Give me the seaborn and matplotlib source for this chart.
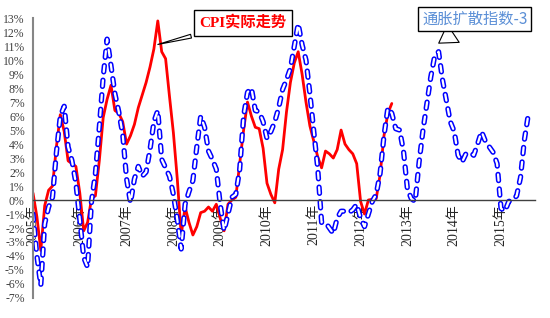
import numpy as np
import matplotlib
matplotlib.use("Agg")
import matplotlib.pyplot as plt
import seaborn as sns

# CPI actual trend (monthly, from 2005-01), percent
cpi_actual = [
    0.5, -1.2, -3.6, -0.4, 0.7, 1.0, 3.8, 6.1, 4.9, 2.8,
    2.6, 2.4, 0.5, -2.2, -1.6, 0.1, 0.3, 2.8, 5.9, 7.2,
    8.2, 6.4, 6.2, 5.6, 4.0, 4.6, 5.4, 6.6, 7.5, 8.4,
    9.5, 10.8, 12.8, 10.6, 10.1, 7.4, 4.8, 1.5, -2.5, -0.5,
    -1.6, -2.5, -1.9, -0.9, -0.8, -0.5, -0.8, -0.3, -1.3, -2.2,
    -0.3, 0.0, 0.2, 2.6, 5.0, 7.0, 6.0, 5.2, 5.1, 3.7,
    1.2, 0.4, -0.2, 2.2, 3.6, 6.3, 8.4, 9.8, 10.6, 9.0,
    7.0, 5.3, 4.2, 3.1, 2.3, 3.5, 3.3, 3.0, 3.6, 5.0,
    4.0, 3.6, 3.3, 2.6, -0.1, -1.0, 0.0, 0.05, 0.1, 1.8,
    4.6, 6.2, 6.9,
]

# inflation diffusion index (-3 months shift), percent
diffusion = [
    -1.0, -4.0, -6.1, -1.7, -0.5, 0.2, 3.4, 6.0, 6.7, 3.8,
    2.8, 1.2, -1.4, -4.1, -4.8, -0.1, 1.9, 5.2, 8.8, 11.5,
    9.6, 7.6, 6.3, 4.7, 1.5, -0.2, 1.5, 2.4, 1.7, 2.0,
    3.6, 5.6, 6.4, 2.9, 2.3, 1.7, 0.4, -1.4, -3.5, -0.3,
    0.6, 1.4, 3.8, 6.0, 5.2, 3.5, 2.9, 2.2, -0.3, -2.2,
    -1.0, 0.2, 0.4, 2.2, 6.0, 7.7, 8.0, 6.4, 6.3, 5.6,
    4.4, 4.9, 5.6, 6.6, 7.9, 8.6, 9.4, 11.0, 12.6, 11.1,
    10.0, 7.6, 4.9, 2.3, -1.6, -1.6, -2.0, -2.4, -1.3, -0.8,
    -0.8, -0.9, -0.7, -0.3, -1.3, -1.9, -1.0, -0.1, 0.4, 1.9,
    4.6, 6.6, 6.2, 5.1, 5.0, 3.5, 0.8, 0.1, -0.1, 2.7,
    5.0, 6.9, 8.8, 10.3, 10.6, 8.6, 7.1, 5.6, 4.9, 3.2,
    2.7, 3.3, 3.4, 3.2, 4.0, 4.9, 4.2, 3.8, 3.4, 2.6,
    -0.6, -0.8, -0.1, 0.0, 0.3, 1.6, 4.3, 6.1,
]

years = list(range(2005, 2016))
year_labels = [f"{y}年" for y in years]
y_ticks = list(range(-7, 14))

start_year = 2005
x_cpi = start_year + np.arange(len(cpi_actual)) / 12
x_diff = start_year + np.arange(len(diffusion)) / 12

sns.set_style("white")
plt.rcParams["font.family"] = ["Liberation Serif", "Noto Sans CJK SC"]
plt.rcParams["lines.scale_dashes"] = False

fig = plt.figure(figsize=(5.5, 3.18), dpi=100)
ax = fig.add_axes([0.06, 0.063, 0.913, 0.88])

sns.lineplot(x=x_cpi, y=cpi_actual, ax=ax, color="#ff0000", linewidth=2.0)

# hollow dashed line: blue outer dash with a white core on top
sns.lineplot(x=x_diff, y=diffusion, ax=ax, color="#0000ff", linewidth=3.8)
outer = ax.lines[-1]
outer.set_dashes((4.5, 6.0))
outer.set_dash_capstyle("round")
sns.lineplot(x=x_diff, y=diffusion, ax=ax, color="white", linewidth=1.6)
inner = ax.lines[-1]
inner.set_dashes((4.5, 6.0))
inner.set_dash_capstyle("round")

ax.set_xlim(2005, 2015.73)
ax.set_ylim(-7, 13)
ax.set_xlabel("")
ax.set_ylabel("")

ax.set_yticks(y_ticks)
ax.set_yticklabels([f"{v}%" for v in y_ticks], fontsize=8.5, color="#404040")
ax.tick_params(axis="y", direction="out", length=4, width=1, color="#868686", pad=2)

ax.set_xticks(years)
ax.set_xticklabels(year_labels, fontsize=10, color="#595959",
                   family=["Liberation Serif", "Noto Sans CJK SC"])
ax.tick_params(axis="x", direction="in", length=4, width=1, color="#404040",
               pad=3, labelrotation=90)

ax.spines["bottom"].set_position(("data", 0))
ax.spines["bottom"].set_color("#404040")
ax.spines["bottom"].set_linewidth(1.0)
ax.spines["left"].set_color("#868686")
ax.spines["left"].set_linewidth(1.5)
ax.spines["top"].set_visible(False)
ax.spines["right"].set_visible(False)

ax.annotate("CPI实际走势", xy=(2007.61, 11.07), xytext=(2009.49, 12.64),
            ha="center", va="center", fontsize=11, fontweight="bold", color="#ff0000",
            family=["Liberation Serif", "Noto Sans CJK SC"],
            bbox=dict(boxstyle="square,pad=0.35", fc="white", ec="black", lw=1.0),
            arrowprops=dict(arrowstyle="wedge,tail_width=0.25", fc="white", ec="black", lw=0.8),
            annotation_clip=False)

ax.annotate("通胀扩散指数-3", xy=(2013.62, 11.1), xytext=(2014.44, 12.93),
            ha="center", va="center", fontsize=11, color="#5b8fd6",
            family=["Noto Sans CJK SC", "DejaVu Sans"],
            bbox=dict(boxstyle="square,pad=0.25", fc="white", ec="black", lw=1.0),
            arrowprops=dict(arrowstyle="wedge,tail_width=1.4", fc="white", ec="black", lw=0.8),
            annotation_clip=False)

fig.savefig("out.png", dpi=100)
